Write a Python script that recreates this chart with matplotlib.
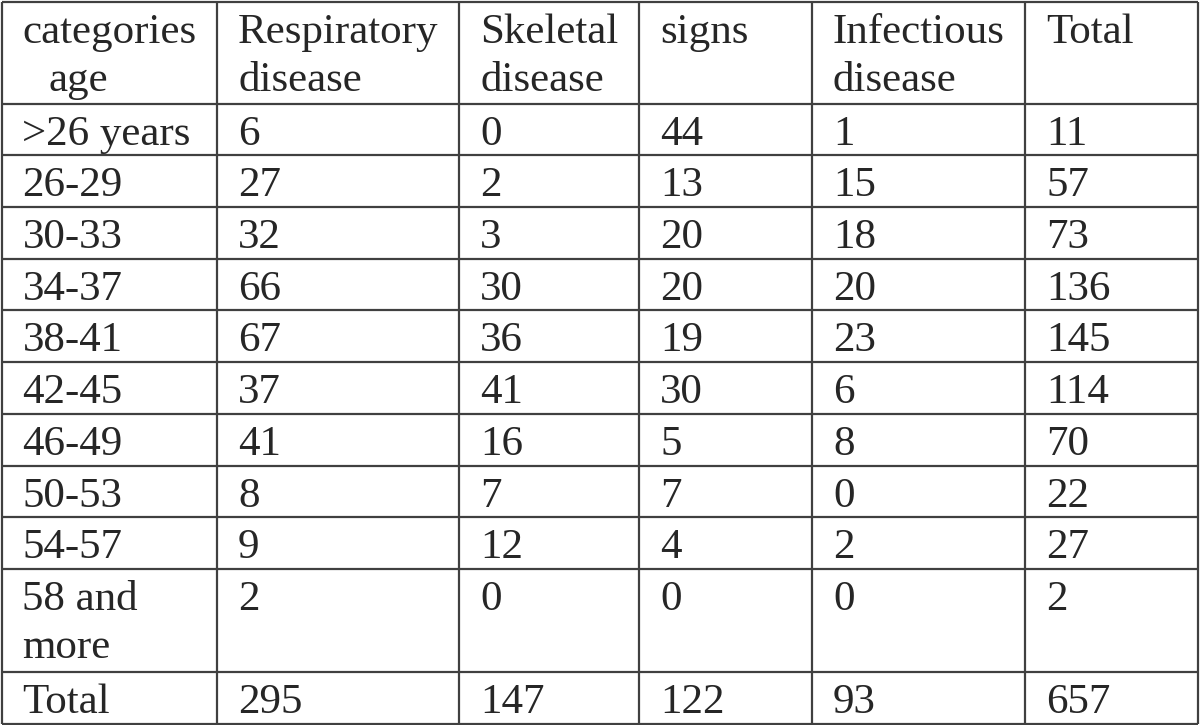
import matplotlib
matplotlib.use("Agg")
import matplotlib.pyplot as plt

# ---- data ----
header = ["categories\n  age", "Respiratory\ndisease", "Skeletal\ndisease",
          "signs", "Infectious\ndisease", "Total"]
age_groups = [">26 years", "26-29", "30-33", "34-37", "38-41", "42-45",
              "46-49", "50-53", "54-57", "58 and\nmore", "Total"]
respiratory = [6, 27, 32, 66, 67, 37, 41, 8, 9, 2, 295]
skeletal = [0, 2, 3, 30, 36, 41, 16, 7, 12, 0, 147]
signs = [44, 13, 20, 20, 19, 30, 5, 7, 4, 0, 122]
infectious = [1, 15, 18, 20, 23, 6, 8, 0, 2, 0, 93]
total = [11, 57, 73, 136, 145, 114, 70, 22, 27, 2, 657]

# ---- layout ----
col_edges = [1.5, 217, 459, 639, 812, 1025, 1198]
row_edges = [1.5, 103.5, 155, 207, 258.5, 310, 362, 414, 465.5, 517, 569, 672, 723.5]
line_color = "#404040"
text_color = "#262626"
fontsize = 31
font = "Liberation Serif"
pad_x = 21
base_off = 41
line_gap = 48

fig = plt.figure(figsize=(12, 7.25), dpi=100)
ax = fig.add_axes([0, 0, 1, 1])
ax.set_xlim(0, 1200)
ax.set_ylim(725, 0)
ax.axis("off")

ax.hlines(row_edges, col_edges[0], col_edges[-1], colors=line_color, linewidth=1.6)
ax.vlines(col_edges, row_edges[0], row_edges[-1], colors=line_color, linewidth=1.6)

def put(text, col, row):
    x0 = col_edges[col] + pad_x
    y0 = row_edges[row] + base_off
    for i, line in enumerate(str(text).split("\n")):
        xx = x0
        if line.startswith("  "):
            xx = x0 + 26
            line = line.strip()
        ax.text(xx, y0 + i * line_gap, line, fontsize=fontsize, family=font,
                color=text_color, ha="left", va="baseline")

for c, h in enumerate(header):
    put(h, c, 0)

columns = [age_groups, respiratory, skeletal, signs, infectious, total]
for c, vals in enumerate(columns):
    for r, v in enumerate(vals):
        put(v, c, r + 1)

fig.savefig("out.png", dpi=100, facecolor="white")
